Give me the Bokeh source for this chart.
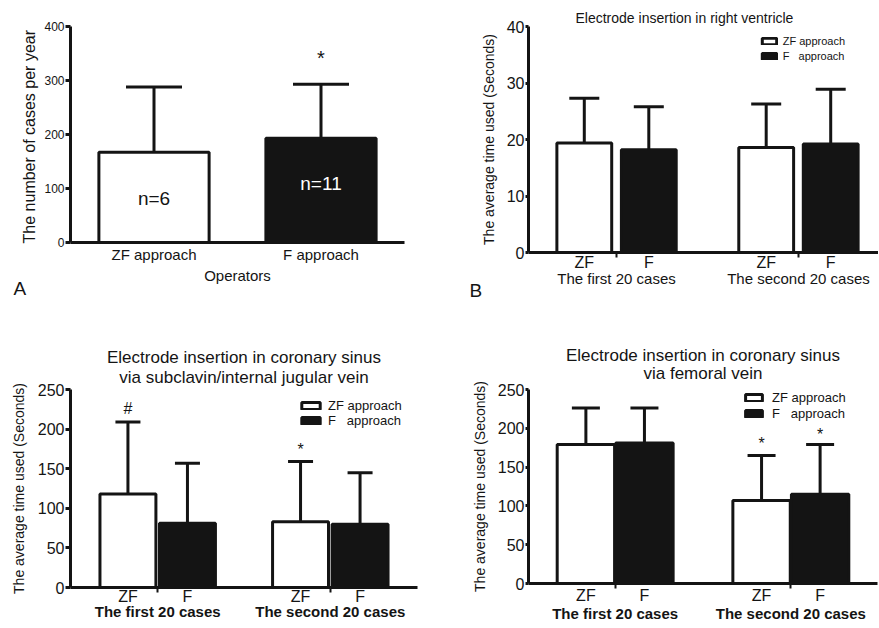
from bokeh.plotting import figure
from bokeh.models import (FactorRange, Range1d, ColumnDataSource, Whisker, TeeHead,
                          Title, FixedTicker, CategoricalAxis, GridBox)
from bokeh.transform import factor_cmap
from bokeh.embed import file_html
from bokeh.resources import INLINE
from bokeh.core.properties import value

FONT = "Liberation Sans"
INK = "#141414"

# ---------------- data ----------------
# Panel A
a_operators = ["ZF approach", "F approach"]
a_mean = [167, 193]
a_upper = [288, 293]
a_n_text = ["n=6", "n=11"]
a_n_y = [81, 109]
a_sig_x = ["F approach"]
a_sig_y = [342]
a_sig_text = ["*"]
a_yticks = [0, 100, 200, 300, 400]

# Panels B-D
groups = ["The first 20 cases", "The second 20 cases"]
approaches = ["ZF", "F"]
legend_labels = ["ZF approach", "F   approach"]

b_zf_mean = [19.4, 18.6]
b_zf_upper = [27.3, 26.3]
b_f_mean = [18.2, 19.2]
b_f_upper = [25.8, 28.9]
b_yticks = [0, 10, 20, 30, 40]

c_zf_mean = [118, 83]
c_zf_upper = [209, 159]
c_f_mean = [81, 80]
c_f_upper = [157, 145]
c_sig_group = ["The first 20 cases", "The second 20 cases"]
c_sig_approach = ["ZF", "ZF"]
c_sig_y = [226, 174]
c_sig_text = ["#", "*"]

d_zf_mean = [179, 107]
d_zf_upper = [226, 165]
d_f_mean = [181, 115]
d_f_upper = [226, 179]
d_sig_group = ["The second 20 cases", "The second 20 cases"]
d_sig_approach = ["ZF", "F"]
d_sig_y = [180, 192]
d_sig_text = ["*", "*"]

cd_yticks = [0, 50, 100, 150, 200, 250]

panel_letters = ["A", "B", "C", "D"]

y_label_a = "The number of  cases per year"
y_label_time = "The average time used (Seconds)"


def make_fig(x_range, y_end, fw, fh, bl, br, bt, bb, **kw):
    p = figure(x_range=x_range, y_range=Range1d(0, y_end),
               frame_width=fw, frame_height=fh,
               min_border_left=bl, min_border_right=br,
               min_border_top=bt, min_border_bottom=bb,
               output_backend="svg", toolbar_location=None, tools="", **kw)
    p.outline_line_color = None
    p.xgrid.visible = False
    p.ygrid.visible = False
    p.background_fill_color = "white"
    p.border_fill_color = "white"
    for ax in p.axis:
        ax.axis_line_width = 3
        ax.axis_line_color = INK
        ax.major_label_text_font = FONT
        ax.major_label_text_color = INK
        ax.axis_label_text_font = FONT
        ax.axis_label_text_font_style = "normal"
        ax.axis_label_text_color = INK
        ax.minor_tick_line_color = None
    return p


def style_y(p, ticks, font, tick_out, standoff, label, label_font, label_standoff):
    ax = p.yaxis[0]
    ax.ticker = FixedTicker(ticks=ticks)
    ax.major_label_text_font_size = font
    ax.major_tick_out = tick_out
    ax.major_tick_in = 0
    ax.major_tick_line_width = 3
    ax.major_tick_line_color = INK
    ax.major_label_standoff = standoff
    ax.axis_label = label
    ax.axis_label_text_font_size = label_font
    ax.axis_label_standoff = label_standoff


def add_letter(p, letter, offset, standoff):
    # panel letter as a left-aligned title under the x axis, pulled up beside its labels
    p.add_layout(Title(text=letter, align="left", offset=offset, standoff=standoff,
                       vertical_align="top", text_font=FONT, text_font_size="19px",
                       text_font_style="normal", text_color=INK), "below")


def add_errorbars(p, src, cap):
    p.add_layout(Whisker(base="x", lower="top", upper="upper", source=src,
                         dimension="height", line_width=3, line_color=INK,
                         upper_head=TeeHead(size=cap, line_width=3, line_color=INK),
                         lower_head=None))


# ---------------- Panel A ----------------
pa = make_fig(FactorRange(*a_operators, range_padding=0), 400, 334, 216, 70, 36, 26, 58)
src_a = ColumnDataSource(dict(x=a_operators, top=a_mean, upper=a_upper,
                              ntext=a_n_text, ny=a_n_y))
pa.vbar(x="x", top="top", width=0.66, source=src_a,
        fill_color=factor_cmap("x", ["white", INK], a_operators),
        line_color=INK, line_width=3)
add_errorbars(pa, src_a, 56)
pa.text(x="x", y="ny", text="ntext", source=src_a, text_font=value(FONT),
        text_font_size="19px", text_align="center", text_baseline="middle",
        text_color=factor_cmap("x", [INK, "white"], a_operators))
pa.text(x=a_sig_x, y=a_sig_y, text=a_sig_text, text_font=value(FONT),
        text_font_size="20px", text_align="center", text_baseline="middle",
        text_color=INK)
style_y(pa, a_yticks, "12px", 5, 1, y_label_a, "16px", 3)
xa = pa.xaxis[0]
xa.major_tick_line_color = None
xa.major_tick_out = 0
xa.major_label_text_font_size = "15px"
xa.major_label_standoff = 3
xa.axis_label = "Operators"
xa.axis_label_text_font_size = "15px"
xa.axis_label_standoff = 1
add_letter(pa, panel_letters[0], -57, -18)


# ---------------- grouped panels ----------------
def grouped_panel(zf_mean, zf_upper, f_mean, f_upper, y_end, yticks,
                  fw, fh, bl, br, bt, bb, group_pad, range_pad, bar_w, cap,
                  tick_font, tick_out, label_standoff, leaf_standoff,
                  group_font, group_style, legend_cfg):
    factors = [(g, a) for g in groups for a in approaches]
    xr = FactorRange(*factors, group_padding=group_pad, factor_padding=0,
                     range_padding=range_pad, range_padding_units="absolute")
    # a group-level range laid over the same span: one unit per group of two bars
    k = 1 / len(approaches)
    xr_groups = FactorRange(*groups, factor_padding=group_pad * k,
                            range_padding=range_pad * k, range_padding_units="absolute")
    p = make_fig(xr, y_end, fw, fh, bl, br, bt, bb, x_axis_location=None)
    p.extra_x_ranges = {"grp": xr_groups}
    tick_ax = CategoricalAxis(x_range_name="grp",
                              axis_line_width=3, axis_line_color=INK,
                              major_tick_out=5, major_tick_in=0, major_tick_line_width=2,
                              major_tick_line_color=INK, minor_tick_line_color=None,
                              major_label_overrides={g: "" for g in groups},
                              major_label_text_font_size="0px",
                              major_label_text_color=None, major_label_standoff=0,
                              separator_line_color=None)
    p.add_layout(tick_ax, "below")
    cat_ax = CategoricalAxis(axis_line_color=None, major_tick_line_color=None,
                             major_tick_out=0, major_tick_in=0,
                             major_label_text_font=FONT, major_label_text_font_size="16px",
                             major_label_text_color=INK, major_label_standoff=leaf_standoff,
                             group_text_font=FONT, group_text_font_size=group_font,
                             group_text_font_style=group_style, group_text_color=INK,
                             separator_line_color=None)
    p.add_layout(cat_ax, "below")

    zf_src = ColumnDataSource(dict(x=[(g, approaches[0]) for g in groups],
                                   top=zf_mean, upper=zf_upper))
    f_src = ColumnDataSource(dict(x=[(g, approaches[1]) for g in groups],
                                  top=f_mean, upper=f_upper))
    p.vbar(x="x", top="top", width=bar_w, source=zf_src, fill_color="white",
           line_color=INK, line_width=3, legend_label=legend_labels[0])
    p.vbar(x="x", top="top", width=bar_w, source=f_src, fill_color=INK,
           line_color=INK, line_width=3, legend_label=legend_labels[1])
    add_errorbars(p, zf_src, cap)
    add_errorbars(p, f_src, cap)
    style_y(p, yticks, tick_font, tick_out, 1, y_label_time, "14px", label_standoff)
    lg = p.legend[0]
    lg.location = legend_cfg["loc"]
    lg.glyph_width = legend_cfg["gw"]
    lg.glyph_height = legend_cfg["gh"]
    lg.label_height = legend_cfg["lh"]
    lg.spacing = legend_cfg["sp"]
    lg.label_standoff = legend_cfg["so"]
    lg.label_text_font = FONT
    lg.label_text_font_size = legend_cfg["font"]
    lg.label_text_color = INK
    lg.padding = 0
    lg.margin = 0
    lg.border_line_color = None
    lg.background_fill_alpha = 0
    return p


def add_title(p, text, font, standoff, align="center", offset=0, valign="bottom"):
    p.add_layout(Title(text=text, align=align, offset=offset, standoff=standoff,
                       vertical_align=valign, text_font=FONT, text_font_size=font,
                       text_font_style="normal", text_color=INK), "above")


def add_sig(p, grp, appr, ys, texts, font):
    p.text(x=[(g, a) for g, a in zip(grp, appr)], y=ys, text=texts,
           text_font=value(FONT), text_font_size=font, text_align="center",
           text_baseline="middle", text_color=INK)


# Panel B
pb = grouped_panel(b_zf_mean, b_zf_upper, b_f_mean, b_f_upper, 40, b_yticks,
                   358, 226, 80, 0, 26, 48, 0.82, 0.365, 0.85, 30,
                   "16px", 3, 7, -4, "15px", "normal",
                   dict(loc=(259, 190), gw=18, gh=8, lh=13, sp=2, so=5, font="11px"))
add_title(pb, "Electrode insertion in right ventricle", "14px", 2, align="left", offset=47)
add_letter(pb, panel_letters[1], -59, -20)

# Panel C
pc = grouped_panel(c_zf_mean, c_zf_upper, c_f_mean, c_f_upper, 250, cd_yticks,
                   347, 198, 68, 25, 89, 40, 0.9, 0.465, 0.94, 25,
                   "16px", 5, 8, -5, "15px", "bold",
                   dict(loc=(229, 159), gw=23, gh=9, lh=15, sp=0, so=6, font="13px"))
add_sig(pc, c_sig_group, c_sig_approach, c_sig_y, c_sig_text, "16px")
add_title(pc, "via subclavin/internal jugular vein", "17px", 4.5)
add_title(pc, "Electrode insertion in coronary sinus", "17px", -7.5)

# Panel D
pd_ = grouped_panel(d_zf_mean, d_zf_upper, d_f_mean, d_f_upper, 250, cd_yticks,
                    349, 194, 88, 1, 89, 44, 1.0, 0.48, 0.98, 28,
                    "16px", 3, 7, -2, "15px", "bold",
                    dict(loc=(215, 162), gw=21, gh=9, lh=15, sp=1, so=8, font="13px"))
add_sig(pd_, d_sig_group, d_sig_approach, d_sig_y, d_sig_text, "16px")
add_title(pd_, "via femoral vein", "17px", 8.5, valign="top")
add_title(pd_, "Electrode insertion in coronary sinus", "17px", -11.5)

layout = GridBox(children=[(pa, 0, 0), (pb, 0, 1), (pc, 1, 0), (pd_, 1, 1)], spacing=0)
open("out.html", "w").write(file_html(layout, INLINE))
